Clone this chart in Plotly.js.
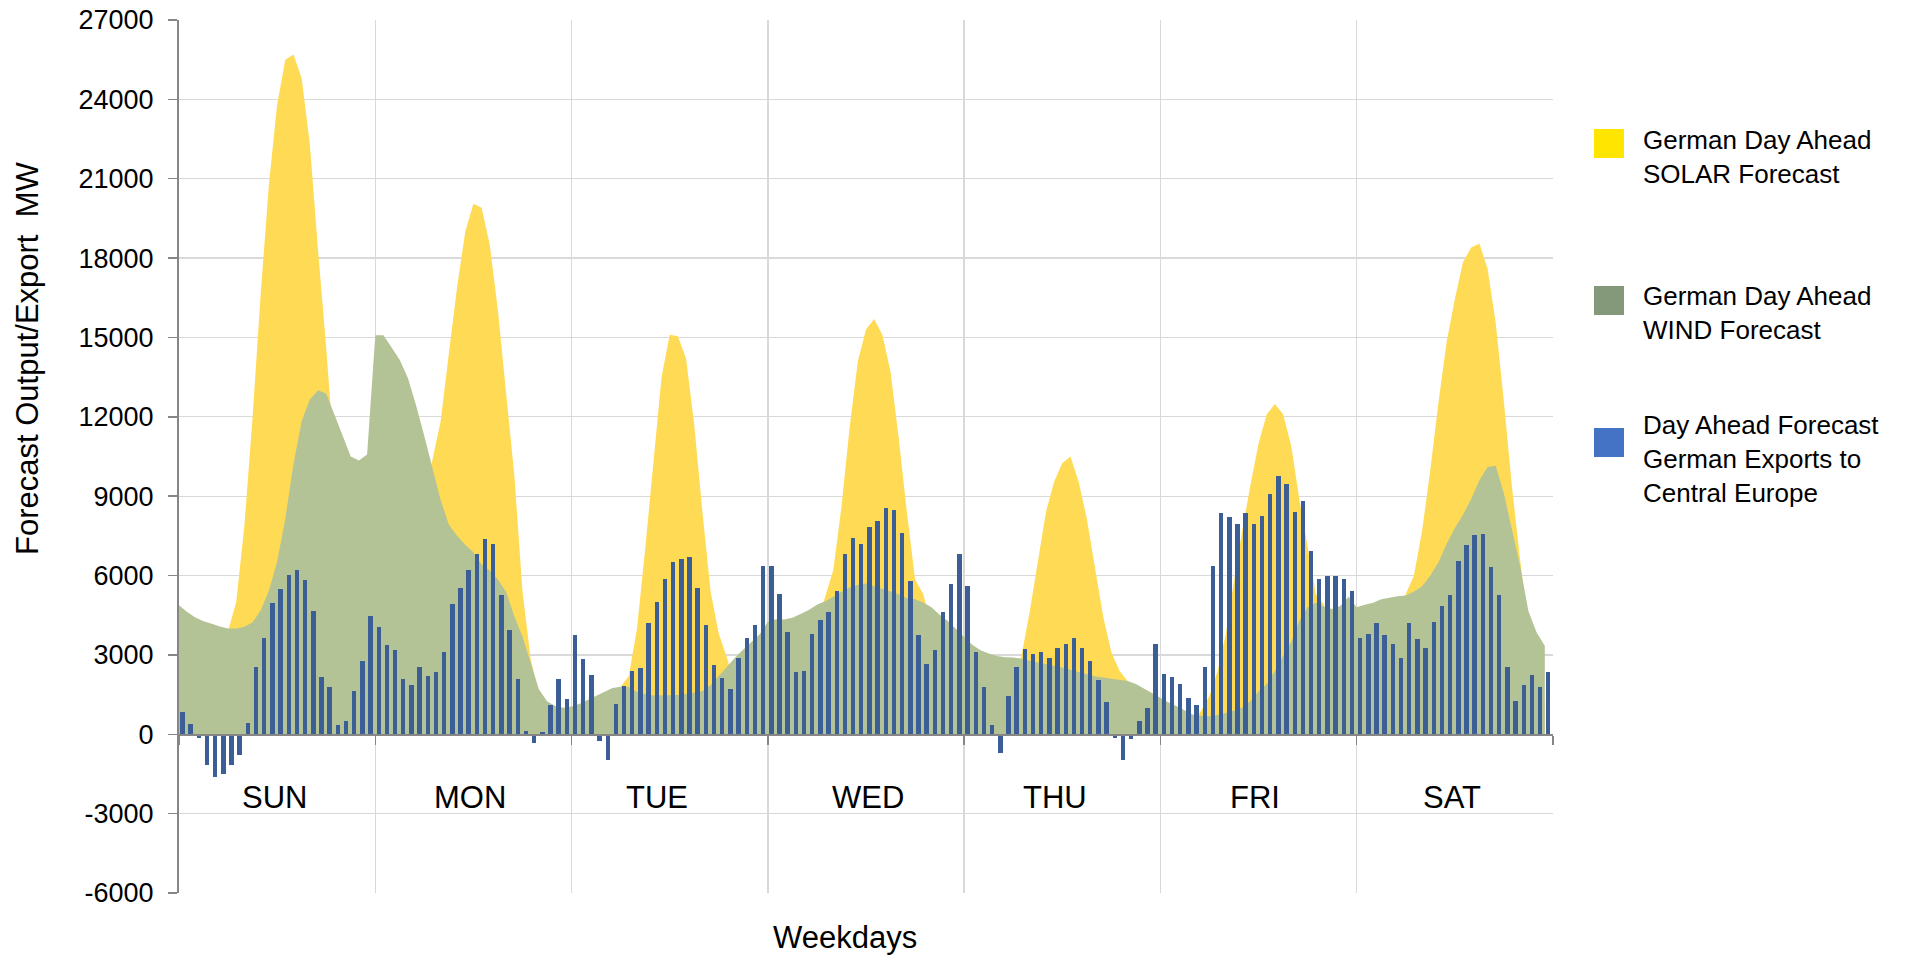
<!DOCTYPE html>
<html>
<head>
<meta charset="utf-8">
<script src="https://cdn.plot.ly/plotly-3.0.1.min.js"></script>
<style>
html,body{margin:0;padding:0;background:#ffffff;}
#chart{width:1911px;height:958px;}
</style>
</head>
<body>
<div id="chart"></div>
<script>
// ---------------- DATA ----------------
const days = ['SUN', 'MON', 'TUE', 'WED', 'THU', 'FRI', 'SAT'];

// German Day Ahead SOLAR forecast, MW, hourly (168 values, Sunday 00:00 .. Saturday 23:00)
const solarMW = [
  0, 0, 0, 0, 0, 1500, 3900, 5000, 7900, 12000, 16700, 20800, 23800, 25500, 25700, 24800, 22300, 18300, 14600, 10500, 6500, 3000, 800, 0,
  0, 0, 0, 800, 3000, 6500, 9000, 10400, 11850, 14400, 16900, 19000, 20050, 19900, 18500, 16000, 13000, 9800, 5400, 2850, 1500, 700, 200, 0,
  0, 0, 0, 300, 1000, 1500, 1800, 2200, 4000, 7000, 10400, 13500, 15100, 15050, 14200, 11700, 8400, 5400, 3800, 2900, 1800, 800, 200, 0,
  0, 0, 0, 500, 1500, 2800, 4200, 5200, 6200, 8600, 11600, 14100, 15300, 15700, 15100, 13700, 11200, 8400, 5850, 5300, 4100, 2000, 800, 200,
  0, 0, 0, 300, 900, 1600, 2300, 2950, 4600, 6500, 8400, 9550, 10250, 10500, 9550, 8150, 6300, 4450, 3100, 2400, 2000, 1200, 500, 100,
  0, 0, 0, 200, 500, 900, 1460, 2400, 3800, 5800, 7700, 9400, 11000, 12100, 12480, 12100, 10900, 8850, 7000, 5300, 4900, 3500, 2200, 1100,
  400, 0, 500, 1500, 3000, 4500, 5300, 6000, 7700, 10000, 12550, 14850, 16450, 17850, 18400, 18550, 17600, 15550, 12550, 9300, 6550, 4000, 2500, 1200
];

// German Day Ahead WIND forecast, MW, hourly
const windMW = [
  4880, 4620, 4410, 4270, 4180, 4070, 4000, 4000, 4060, 4230, 4690, 5430, 6530, 8150, 10230, 11840, 12650, 13000, 12880, 12080, 11270, 10500, 10350, 10580,
  15080, 15080, 14620, 14150, 13460, 12420, 11270, 10000, 8850, 7920, 7500, 7160, 6880, 6420, 6190, 5850, 5380, 4460, 3700, 2700, 1700, 1250, 1070, 1000,
  1050, 1150, 1300, 1420, 1600, 1750, 1800, 1800, 1600, 1520, 1470, 1470, 1470, 1480, 1520, 1570, 1640, 1850, 2200, 2550, 2900, 3200, 3500, 3780,
  4250, 4350, 4340, 4400, 4550, 4700, 4900, 5030, 5200, 5400, 5550, 5650, 5700, 5600, 5520, 5400, 5290, 5140, 5100, 4980, 4800, 4520, 4280, 3980,
  3650, 3380, 3180, 3050, 2960, 2910, 2900, 2860, 2780, 2720, 2660, 2590, 2520, 2440, 2350, 2280, 2190, 2150, 2100, 2070, 2015, 1900, 1720, 1540,
  1360, 1200, 1060, 900, 740, 700, 680, 730, 800, 900, 1010, 1250, 1620, 1900, 2400, 2960, 3500, 4300, 4800, 4970, 4820, 4740, 4850, 5200,
  4800, 4900, 4970, 5100, 5160, 5220, 5250, 5400, 5600, 6000, 6500, 7200, 7800, 8300, 8900, 9600, 10100, 10150, 9100, 7650, 6330, 4650, 3850, 3350
];

// Day Ahead forecast German exports to Central Europe, MW, hourly
const exportMW = [
  850, 400, -150, -1170, -1600, -1510, -1170, -790, 420, 2540, 3640, 4960, 5490, 6020, 6210, 5830, 4660, 2150, 1780, 350, 500, 1640, 2780, 4470,
  4040, 3360, 3190, 2100, 1860, 2540, 2200, 2360, 3120, 4940, 5530, 6210, 6810, 7390, 7190, 5260, 3940, 2100, 125, -340, 100, 1110, 2100, 1350,
  3750, 2830, 2250, -250, -970, 1160, 1830, 2400, 2490, 4200, 5000, 5870, 6510, 6610, 6700, 5530, 4130, 2630, 2130, 1730, 2880, 3640, 4130, 6360,
  6360, 5300, 3870, 2360, 2400, 3790, 4320, 4620, 5410, 6810, 7420, 7190, 7830, 8070, 8560, 8490, 7600, 5790, 3750, 2650, 3190, 4620, 5680, 6810,
  5600, 3120, 1780, 350, -690, 1450, 2540, 3240, 3030, 3120, 2880, 3260, 3410, 3640, 3260, 2780, 2050, 1220, -150, -970, -190, 500, 1010, 3410,
  2290, 2170, 1900, 1370, 1100, 2540, 6360, 8370, 8210, 7940, 8370, 7940, 8250, 9090, 9760, 9470, 8410, 8810, 6930, 5870, 5980, 5980, 5870, 5410,
  3640, 3790, 4200, 3750, 3410, 2880, 4200, 3600, 3260, 4240, 4850, 5260, 6550, 7150, 7530, 7570, 6330, 5260, 2540, 1260, 1860, 2250, 1790, 2360
];

const yTickValues = [-6000, -3000, 0, 3000, 6000, 9000, 12000, 15000, 18000, 21000, 24000, 27000];
const legendLabels = [
  'German Day Ahead<br>SOLAR Forecast',
  'German Day Ahead<br>WIND Forecast',
  'Day Ahead Forecast<br>German Exports to<br>Central Europe'
];
const yTitle = 'Forecast Output/Export&nbsp; MW';
const xTitle = 'Weekdays';

// ---------------- LAYOUT / STYLE ----------------
const FONT = 'Liberation Sans, Arial, Helvetica, sans-serif';
const W = 1911, H = 958;
const PL = 179, PR = 1553, PT = 20, PB = 893;       // plot box in pixels
const px = x => (x - PL) / (PR - PL);
const py = y => (PB - y) / (PB - PT);

const HOURS_PER_DAY = 24;
const nHours = days.length * HOURS_PER_DAY;
const hourIdx = solarMW.map((_, i) => i);
const barIdx = exportMW.map((_, i) => i + 0.42);
const dayBounds = days.map((_, i) => i * HOURS_PER_DAY).concat([nHours]);
const labelShift = [-0.3, -0.4, -1.6, 0.3, -0.9, -0.4, -0.4];
const dayLabelPos = days.map((_, i) => i * HOURS_PER_DAY + HOURS_PER_DAY / 2 + labelShift[i]);

const colSolar = '#FFDB55';
const colWind = '#B3C396';
const colExport = '#3A5E95';
const legendCols = ['#FFE500', '#84997A', '#4472C4'];
const axisGrey = '#868686';
const gridGrey = '#D9D9D9';

const yMin = -6000, yMax = 27000;

const traces = [
  {
    type: 'scatter', mode: 'lines', x: hourIdx, y: solarMW,
    fill: 'tozeroy', fillcolor: colSolar, line: {width: 0, color: colSolar},
    name: 'German Day Ahead SOLAR Forecast', showlegend: false, hoverinfo: 'y'
  },
  {
    type: 'scatter', mode: 'lines', x: hourIdx, y: windMW,
    fill: 'tozeroy', fillcolor: colWind, line: {width: 0, color: colWind},
    name: 'German Day Ahead WIND Forecast', showlegend: false, hoverinfo: 'y'
  },
  {
    type: 'bar', x: barIdx, y: exportMW, width: 0.54,
    xaxis: 'x2', yaxis: 'y2',
    marker: {color: colExport, line: {width: 0}},
    name: 'Day Ahead Forecast German Exports to Central Europe', showlegend: false, hoverinfo: 'y'
  }
];

const legendTops = [123, 279, 408];
const squareTops = [129, 286, 428];
const shapes = [];
const annotations = [];

legendLabels.forEach((t, i) => {
  shapes.push({
    type: 'rect', xref: 'paper', yref: 'paper',
    x0: px(1594), x1: px(1624), y0: py(squareTops[i]), y1: py(squareTops[i] + 29),
    fillcolor: legendCols[i], line: {width: 0}
  });
  annotations.push({
    xref: 'paper', yref: 'paper', x: px(1641), y: py(legendTops[i]),
    xanchor: 'left', yanchor: 'top', align: 'left', showarrow: false,
    text: t, font: {family: FONT, size: 26, color: '#000000'}
  });
});

days.forEach((d, i) => {
  annotations.push({
    xref: 'x', yref: 'y', x: dayLabelPos[i], y: -2380,
    xanchor: 'center', yanchor: 'middle', showarrow: false,
    text: d, font: {family: FONT, size: 31, color: '#000000'}
  });
});

annotations.push({
  xref: 'paper', yref: 'paper', x: px(28), y: py(358),
  xanchor: 'center', yanchor: 'middle', showarrow: false, textangle: -90,
  text: yTitle, font: {family: FONT, size: 31, color: '#000000'}
});
annotations.push({
  xref: 'paper', yref: 'paper', x: px(845), y: py(937),
  xanchor: 'center', yanchor: 'middle', showarrow: false,
  text: xTitle, font: {family: FONT, size: 31, color: '#000000'}
});

const layout = {
  width: W, height: H,
  margin: {l: PL, r: W - PR, t: PT, b: H - PB, pad: 0},
  paper_bgcolor: '#ffffff', plot_bgcolor: '#ffffff',
  font: {family: FONT, color: '#000000'},
  showlegend: false,
  bargap: 0,
  xaxis: {
    range: [0, nHours], fixedrange: true,
    anchor: 'free', position: (0 - yMin) / (yMax - yMin),
    tickmode: 'array', tickvals: dayBounds, ticktext: dayBounds.map(() => ''),
    showticklabels: false,
    ticks: 'outside', ticklen: 9, tickwidth: 1.5, tickcolor: axisGrey,
    showgrid: true, gridcolor: gridGrey, gridwidth: 1.3,
    zeroline: false, showline: true, linecolor: axisGrey, linewidth: 1.5,
    layer: 'above traces'
  },
  yaxis: {
    range: [yMin, yMax], fixedrange: true,
    tickmode: 'array', tickvals: yTickValues, ticktext: yTickValues.map(String),
    ticks: 'outside', ticklen: 9, tickwidth: 1.5, tickcolor: axisGrey,
    ticklabelstandoff: 9,
    tickfont: {family: FONT, size: 27, color: '#000000'},
    showgrid: true, gridcolor: gridGrey, gridwidth: 1.3,
    zeroline: false, showline: true, linecolor: axisGrey, linewidth: 2
  },
  xaxis2: {
    overlaying: 'x', anchor: 'y2', range: [0, nHours], fixedrange: true,
    visible: false, showgrid: false, zeroline: false
  },
  yaxis2: {
    overlaying: 'y', anchor: 'x2', range: [yMin, yMax], fixedrange: true,
    visible: false, showgrid: false, zeroline: false
  },
  shapes: shapes,
  annotations: annotations
};

Plotly.newPlot('chart', traces, layout, {displayModeBar: false, staticPlot: true});
</script>
</body>
</html>
